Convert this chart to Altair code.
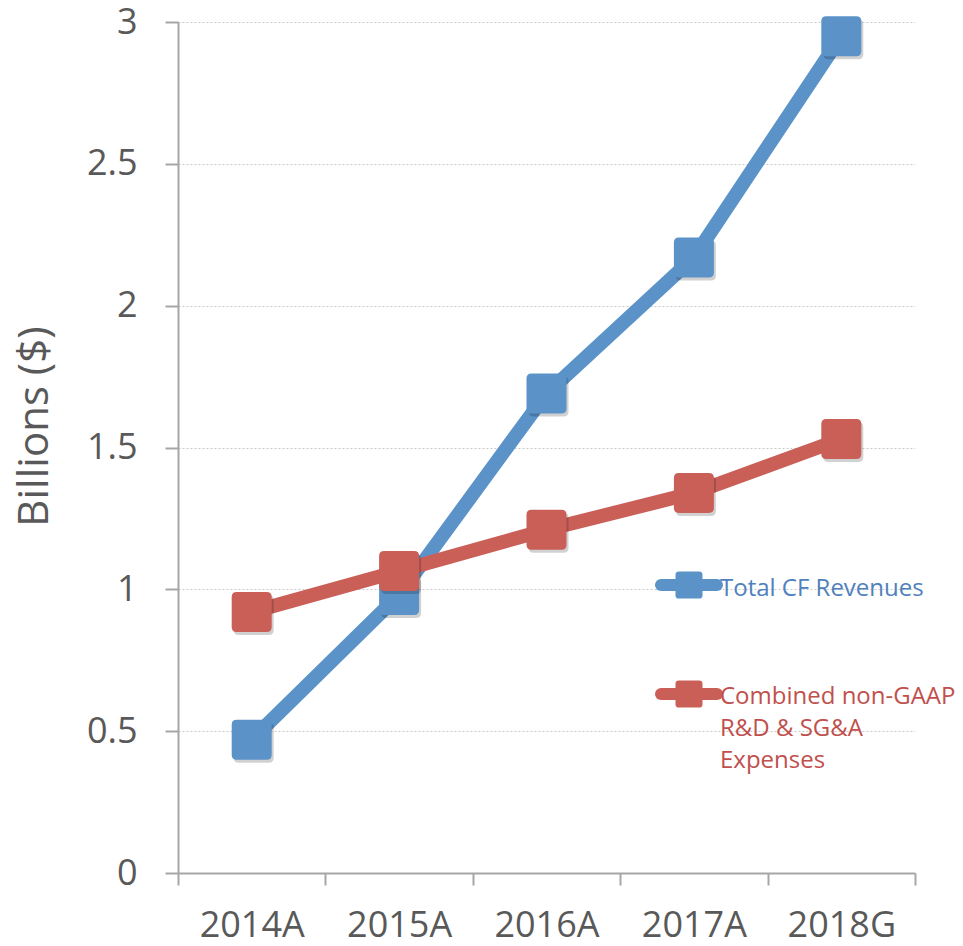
import altair as alt
import pandas as pd

years = ["2014A", "2015A", "2016A", "2017A", "2018G"]
revenues = [0.47, 0.98, 1.69, 2.17, 2.95]
expenses = [0.92, 1.065, 1.21, 1.34, 1.53]
series_names = ["Total CF Revenues", "Combined non-GAAP R&D & SG&A Expenses"]
line_colors = ["#5B93C9", "#CA5F58"]
text_colors = ["#4F81BD", "#C0504D"]
y_ticks = [0, 0.5, 1, 1.5, 2, 2.5, 3]

rows = []
for y, v in zip(years, revenues):
    rows.append({"year": y, "value": v, "series": series_names[0]})
for y, v in zip(years, expenses):
    rows.append({"year": y, "value": v, "series": series_names[1]})
df = pd.DataFrame(rows)

FONT = "Open Sans"
ROUND_SQ = ("M -0.75 -1 L 0.75 -1 Q 1 -1 1 -0.75 L 1 0.75 Q 1 1 0.75 1 "
            "L -0.75 1 Q -1 1 -1 0.75 L -1 -0.75 Q -1 -1 -0.75 -1 Z")

x_enc = alt.X(
    "year:N", sort=years, bandPosition=0.5,
    scale=alt.Scale(type="band", paddingInner=0, paddingOuter=0),
    axis=alt.Axis(title=None, tickBand="extent", grid=False, labelAngle=0,
                  labelFontSize=36, labelFont=FONT, labelColor="#595959",
                  labelPadding=23, tickSize=12, tickWidth=2, tickColor="#A6A6A6",
                  domainColor="#A6A6A6", domainWidth=2),
)
y_enc = alt.Y(
    "value:Q",
    scale=alt.Scale(domain=[0, 3], nice=False, zero=True),
    axis=alt.Axis(title="Billions ($)", values=y_ticks, format="~g",
                  titleFontSize=42, titleFont=FONT, titleFontWeight="normal",
                  titleColor="#595959", titlePadding=30, titleY=404,
                  labelFontSize=36, labelFont=FONT, labelColor="#595959",
                  labelPadding=28, tickSize=13, tickWidth=2, tickColor="#A6A6A6",
                  domainColor="#A6A6A6", domainWidth=2,
                  grid=True, gridColor="#C8C8C8", gridDash=[2, 2], gridWidth=1),
)


def series_layers(name, color):
    base = alt.Chart(df).transform_filter(alt.datum.series == name)
    line = base.mark_line(strokeWidth=14, color=color).encode(x=x_enc, y=y_enc)
    shadow = base.mark_point(shape=ROUND_SQ, size=1600, filled=True, color="#000000",
                             opacity=0.18, xOffset=2, yOffset=3).encode(x=x_enc, y=y_enc)
    pts = base.mark_point(shape=ROUND_SQ, size=1600, filled=True, color=color,
                          opacity=1).encode(x=x_enc, y=y_enc)
    return [line, shadow, pts]


dummy = alt.Data(values=[{"k": 1}])


def legend_layers(ypos, color, tcolor, text, text_y):
    rule = alt.Chart(dummy).mark_rule(strokeWidth=12, color=color, strokeCap="round").encode(
        x=alt.value(483), x2=alt.value(539), y=alt.value(ypos))
    sq = alt.Chart(dummy).mark_point(shape=ROUND_SQ, size=729, filled=True, color=color,
                                     opacity=1).encode(x=alt.value(511), y=alt.value(ypos))
    txt = alt.Chart(dummy).mark_text(align="left", baseline="alphabetic", fontSize=24,
                                     font=FONT, color=tcolor, lineHeight=32).encode(
        x=alt.value(542), y=alt.value(text_y), text=alt.value(text))
    return [rule, sq, txt]


layers = []
layers += series_layers(series_names[0], line_colors[0])
layers += series_layers(series_names[1], line_colors[1])
layers += legend_layers(563, line_colors[0], text_colors[0], ["Total CF Revenues"], 574)
layers += legend_layers(672, line_colors[1], text_colors[1],
                        ["Combined non-GAAP", "R&D & SG&A", "Expenses"], 682)

chart = alt.layer(*layers).properties(
    width=737, height=851,
    autosize=alt.AutoSizeParams(type="none"),
    padding={"left": 170, "top": 14, "right": 40, "bottom": 65},
).configure(background="white", view=alt.ViewConfig(stroke=None))

chart.save("out.html", embed_options={"renderer": "svg", "actions": False})
